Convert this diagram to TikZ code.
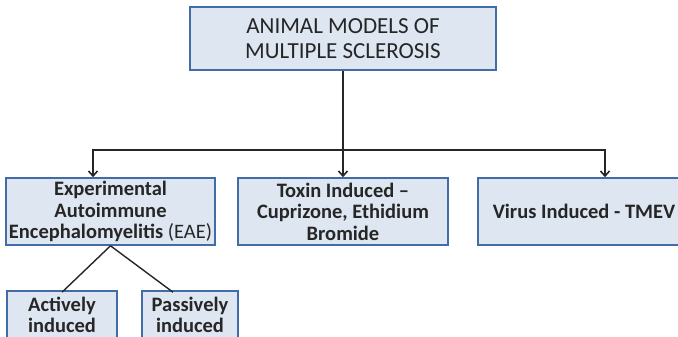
\documentclass[tikz,border=0pt]{standalone}
\usepackage{fontspec}
\setmainfont{Carlito}
\usepackage{xcolor}
\usetikzlibrary{arrows.meta,positioning}
\definecolor{boxblue}{RGB}{66,108,166}
\definecolor{boxfill}{RGB}{221,230,241}
\tikzset{
  mbox/.style={rectangle, draw=boxblue, fill=boxfill, line width=1.6pt, align=center, text=black!85, font=\fontsize{20.5}{21.5}\selectfont\bfseries, inner sep=2pt},
  titlebox/.style={mbox, font=\fontsize{23}{25}\selectfont, minimum width=306pt, minimum height=63pt},
  levelbox/.style={mbox, minimum height=67pt},
  leafbox/.style={mbox, minimum height=48pt},
  marrow/.style={-{Straight Barb[length=5pt,width=9pt]}, line width=1.6pt, black!85},
  mline/.style={line width=1.4pt, black!85}
}

\begin{document}
\begin{tikzpicture}[x=1pt, y=-1pt]
\useasboundingbox (0,0) rectangle (678,337);
\node[titlebox] (title) at (343,38.5) {ANIMAL MODELS OF\\MULTIPLE SCLEROSIS};
\node[levelbox, minimum width=209pt] (eae) at (110.5,211.5) {Experimental\\Autoimmune\\Encephalomyelitis {\mdseries(EAE)}};
\node[levelbox, minimum width=210pt] (toxin) at (343,211.5) {Toxin Induced --\\Cuprizone, Ethidium\\Bromide};
\node[levelbox, minimum width=212pt] (virus) at (584,211.5) {Virus Induced - TMEV};
\node[leafbox, minimum width=110pt] (active) at (62,315) {Actively\\induced};
\node[leafbox, minimum width=96pt] (passive) at (190,315) {Passively\\induced};
\coordinate (split) at (343,150);
\draw[mline] (title) -- (split);
\draw[marrow] (split) -- (toxin);
\draw[marrow] (split) -| ([xshift=-17.5pt]eae.north);
\draw[marrow] (split) -| ([xshift=21pt]virus.north);
\draw[mline] (eae.south) -- ([yshift=-2pt]active.north);
\draw[mline] (eae.south) -- ([xshift=-17pt,yshift=-2pt]passive.north);
\end{tikzpicture}
\end{document}
